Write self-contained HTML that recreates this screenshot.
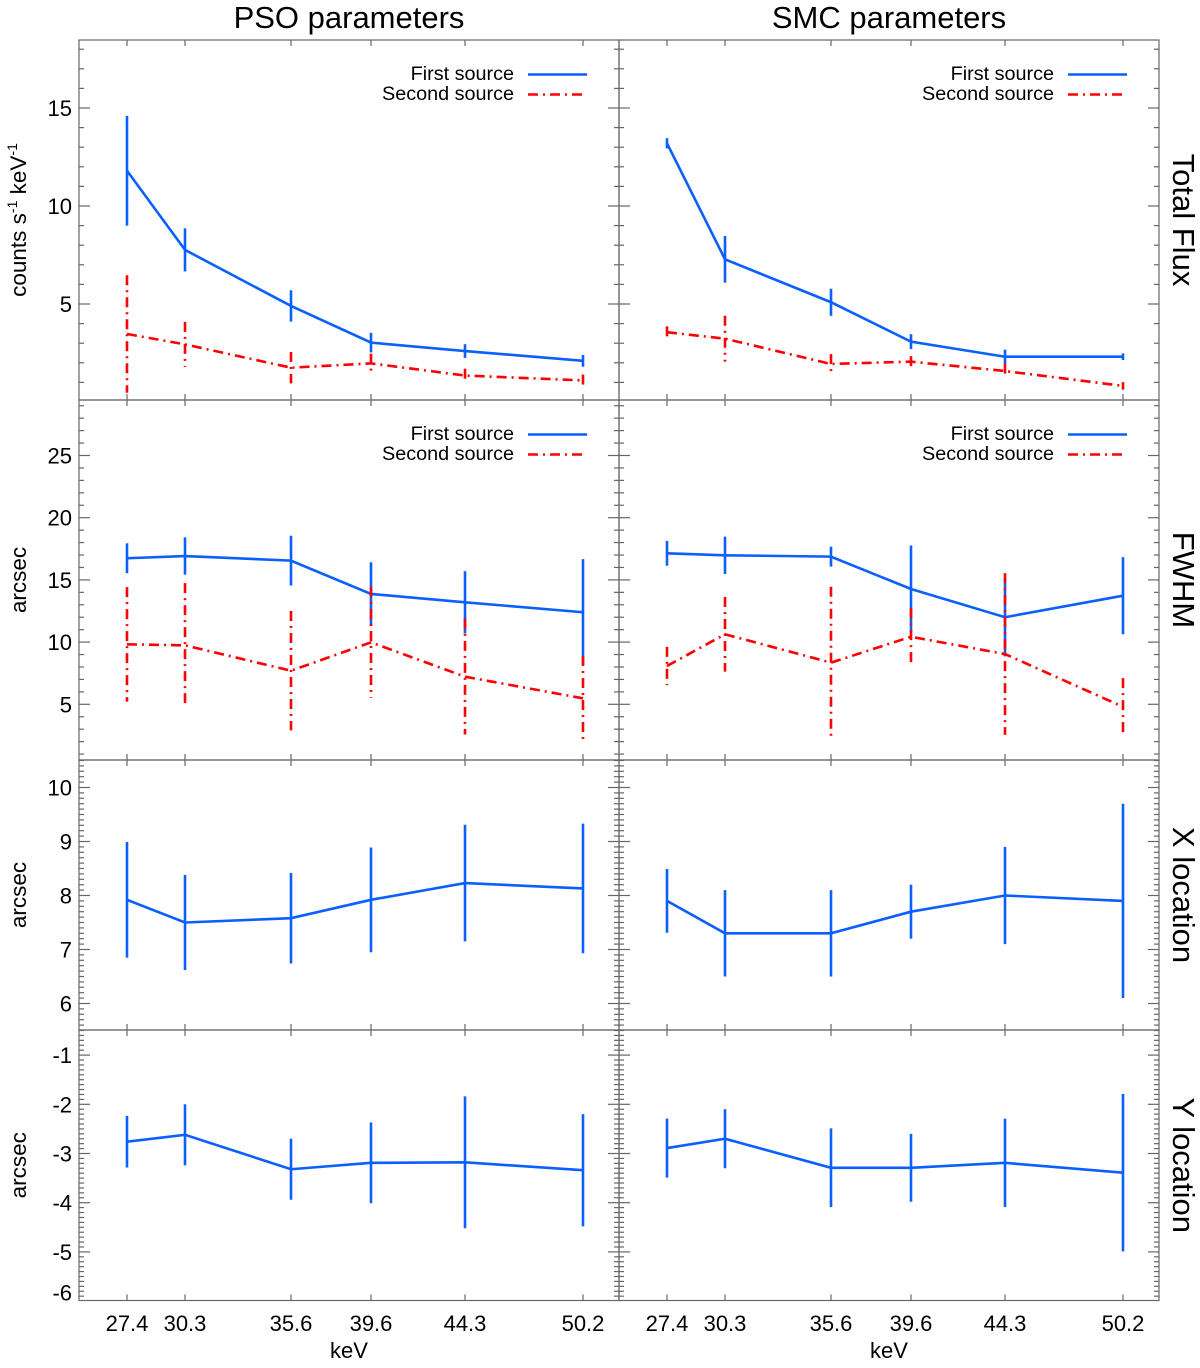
<!DOCTYPE html>
<html><head><meta charset="utf-8"><style>
html,body{margin:0;padding:0;background:#fff}
svg{display:block;font-family:"Liberation Sans",Arial,sans-serif}
</style></head><body>
<svg id="chart" width="1200" height="1368" viewBox="0 0 1200 1368" xmlns="http://www.w3.org/2000/svg">
<text x="349" y="28" font-size="31" text-anchor="middle">PSO parameters</text>
<text x="889" y="28" font-size="31" text-anchor="middle">SMC parameters</text>
<g id="marks"></g>
</svg>
<script>
const energies = [27.4, 30.3, 35.6, 39.6, 44.3, 50.2];
const energyLabels = ["27.4", "30.3", "35.6", "39.6", "44.3", "50.2"];

const psoFluxFirst = [11.8, 7.76, 4.9, 3.03, 2.6, 2.1];
const psoFluxFirstErr = [2.8, 1.1, 0.8, 0.5, 0.35, 0.3];
const psoFluxSecond = [3.47, 2.94, 1.75, 1.97, 1.35, 1.1];
const psoFluxSecondErr = [3.0, 1.15, 0.8, 0.5, 0.35, 0.3];
const smcFluxFirst = [13.2, 7.28, 5.09, 3.08, 2.31, 2.31];
const smcFluxFirstErr = [0.26, 1.19, 0.69, 0.38, 0.36, 0.17];
const smcFluxSecond = [3.56, 3.23, 1.94, 2.06, 1.58, 0.82];
const smcFluxSecondErr = [0.3, 1.17, 0.5, 0.28, 0.38, 0.19];

const psoFwhmFirst = [16.74, 16.92, 16.55, 13.87, 13.2, 12.4];
const psoFwhmFirstErr = [1.2, 1.5, 2.0, 2.55, 2.5, 4.27];
const psoFwhmSecond = [9.82, 9.74, 7.7, 9.98, 7.22, 5.48];
const psoFwhmSecondErr = [4.6, 5.0, 4.8, 4.45, 4.65, 3.4];
const smcFwhmFirst = [17.14, 16.98, 16.87, 14.27, 12.0, 13.73];
const smcFwhmFirstErr = [1.0, 1.5, 0.8, 3.5, 3.15, 3.1];
const smcFwhmSecond = [8.08, 10.63, 8.35, 10.43, 9.04, 4.8];
const smcFwhmSecondErr = [1.54, 3.0, 6.1, 2.3, 6.5, 2.3];

const psoX = [7.92, 7.50, 7.58, 7.92, 8.23, 8.13];
const psoXErr = [1.07, 0.88, 0.84, 0.97, 1.08, 1.2];
const smcX = [7.90, 7.30, 7.30, 7.70, 8.0, 7.90];
const smcXErr = [0.59, 0.8, 0.8, 0.5, 0.9, 1.8];

const psoY = [-2.76, -2.62, -3.32, -3.19, -3.18, -3.34];
const psoYErr = [0.525, 0.62, 0.62, 0.82, 1.34, 1.14];
const smcY = [-2.89, -2.70, -3.29, -3.29, -3.19, -3.39];
const smcYErr = [0.6, 0.6, 0.8, 0.69, 0.9, 1.6];

const fluxTicks = [5, 10, 15];
const fwhmTicks = [5, 10, 15, 20, 25];
const xlocTicks = [6, 7, 8, 9, 10];
const ylocTicks = [-1, -2, -3, -4, -5, -6];

const NS = "http://www.w3.org/2000/svg";
const root = document.getElementById("marks");
function el(tag, attrs, parent) {
  const e = document.createElementNS(NS, tag);
  for (const k in attrs) e.setAttribute(k, attrs[k]);
  (parent || root).appendChild(e);
  return e;
}
const BLUE = "#0a5fff", RED = "#ff0000", AX = "#666";
const DASH = "10,5,2,5";

const rows = [
  {name:"flux", top:40, bot:400, v0:5, y0:304, k:19.6, minor:1, ticks:fluxTicks, lo:0, hi:18.5,
   title:"Total Flux", ylab:"counts"},
  {name:"fwhm", top:400, bot:760, v0:5, y0:704.3, k:12.44, minor:1, ticks:fwhmTicks, lo:0, hi:30,
   title:"FWHM", ylab:"arcsec"},
  {name:"xloc", top:760, bot:1030, v0:10, y0:787.5, k:54, minor:0.1, ticks:xlocTicks, lo:5.5, hi:10.5,
   title:"X location", ylab:"arcsec"},
  {name:"yloc", top:1030, bot:1300.5, v0:-1, y0:1055.1, k:49.2, minor:0.1, ticks:ylocTicks, lo:-6.05, hi:-0.45,
   title:"Y location", ylab:"arcsec"}
];
const panels = [{name:"pso", x0:79, x1:619, off:0}, {name:"smc", x0:619, x1:1159, off:540}];
function xs(e, off) { return 127 + (e - 27.4) * 20 + off; }
function ys(v, r) { return r.y0 - (v - r.v0) * r.k; }

const defs = el("defs", {});
rows.forEach((r, ri) => panels.forEach((p, pi) => {
  const cp = el("clipPath", {id: "c" + ri + pi}, defs);
  el("rect", {x: p.x0, y: r.top, width: p.x1 - p.x0, height: r.bot - r.top}, cp);
}));

rows.forEach((r, ri) => {
  panels.forEach((p) => {
    const g = el("g", {stroke: AX, "stroke-width": 1.2, fill: "none"});
    
    
    el("rect", {x: p.x0, y: r.top, width: p.x1 - p.x0, height: r.bot - r.top}, g);
    energies.forEach((e) => {
      const x = xs(e, p.off);
      el("line", {x1: x, y1: r.top, x2: x, y2: r.top + 6}, g);
      el("line", {x1: x, y1: r.bot, x2: x, y2: r.bot - 6}, g);
    });
    const n0 = Math.ceil(r.lo / r.minor - 1e-6), n1 = Math.floor(r.hi / r.minor + 1e-6);
    for (let n = n0; n <= n1; n++) {
      const v = n * r.minor;
      const y = ys(v, r);
      if (y < r.top + 0.5 || y > r.bot - 0.5) continue;
      const major = r.ticks.some(t => Math.abs(t - v) < 1e-6);
      const len = major ? 11 : 5;
      el("line", {x1: p.x0, y1: y, x2: p.x0 + len, y2: y}, g);
      el("line", {x1: p.x1, y1: y, x2: p.x1 - len, y2: y}, g);
    }
  });
  r.ticks.forEach((t) => {
    let y = ys(t, r);
    if (y > r.bot - 8) y = r.bot - 8;
    const tx = el("text", {x: 72, y: y + 8, "font-size": 22, "text-anchor": "end"});
    
    
    tx.textContent = String(t);
  });
  const cy = (r.top + r.bot) / 2;
  const rt = el("text", {x: 1173, y: cy, "font-size": 31, "text-anchor": "middle", transform: "rotate(90 1173 " + cy + ")"});
  
  
  rt.textContent = r.title;
  const lt = el("text", {x: 26, y: cy, "font-size": 22.5, "text-anchor": "middle", transform: "rotate(-90 26 " + cy + ")"});
  
  
  if (r.ylab === "counts") {
    lt.innerHTML = 'counts s<tspan dy="-9" font-size="14">-1</tspan><tspan dy="9"> keV</tspan><tspan dy="-9" font-size="14">-1</tspan>';
  } else lt.textContent = r.ylab;
});

panels.forEach((p) => {
  energies.forEach((e, i) => {
    const t = el("text", {x: xs(e, p.off), y: 1331, "font-size": 22, "text-anchor": "middle"});
    
    
    t.textContent = energyLabels[i];
  });
  const k = el("text", {x: (p.x0 + p.x1) / 2, y: 1358, "font-size": 22, "text-anchor": "middle"});
  
  
  k.textContent = "keV";
});

function series(ri, pi, vals, errs, color, dashed, label) {
  const r = rows[ri], p = panels[pi];
  const g = el("g", {"clip-path": "url(#c" + ri + pi + ")", stroke: color, "stroke-width": 2.6, fill: "none"});
  
  
  const pts = vals.map((v, i) => xs(energies[i], p.off) + "," + ys(v, r)).join(" ");
  const line = el("polyline", {points: pts}, g);
  
  
  if (dashed) line.setAttribute("stroke-dasharray", DASH);
  vals.forEach((v, i) => {
    const x = xs(energies[i], p.off);
    const b = el("line", {x1: x, y1: ys(v + errs[i], r), x2: x, y2: ys(v - errs[i], r)}, g);
    
    
    if (dashed) b.setAttribute("stroke-dasharray", DASH);
  });
}
series(0, 0, psoFluxFirst, psoFluxFirstErr, BLUE, false, "pso-flux-first");
series(0, 0, psoFluxSecond, psoFluxSecondErr, RED, true, "pso-flux-second");
series(0, 1, smcFluxFirst, smcFluxFirstErr, BLUE, false, "smc-flux-first");
series(0, 1, smcFluxSecond, smcFluxSecondErr, RED, true, "smc-flux-second");
series(1, 0, psoFwhmFirst, psoFwhmFirstErr, BLUE, false, "pso-fwhm-first");
series(1, 0, psoFwhmSecond, psoFwhmSecondErr, RED, true, "pso-fwhm-second");
series(1, 1, smcFwhmFirst, smcFwhmFirstErr, BLUE, false, "smc-fwhm-first");
series(1, 1, smcFwhmSecond, smcFwhmSecondErr, RED, true, "smc-fwhm-second");
series(2, 0, psoX, psoXErr, BLUE, false, "pso-x-location");
series(2, 1, smcX, smcXErr, BLUE, false, "smc-x-location");
series(3, 0, psoY, psoYErr, BLUE, false, "pso-y-location");
series(3, 1, smcY, smcYErr, BLUE, false, "smc-y-location");

[40, 400].forEach((top, ri) => panels.forEach((p) => {
  const g = el("g", {});
  
  
  const t1 = el("text", {x: 514 + p.off, y: top + 40, "font-size": 19.8, "text-anchor": "end"}, g);
  
  
  t1.textContent = "First source";
  const t2 = el("text", {x: 514 + p.off, y: top + 60, "font-size": 19.8, "text-anchor": "end"}, g);
  
  
  t2.textContent = "Second source";
  el("line", {x1: 528 + p.off, y1: top + 34.5, x2: 587 + p.off, y2: top + 34.5, stroke: BLUE, "stroke-width": 2.6}, g);
  el("line", {x1: 528 + p.off, y1: top + 54.5, x2: 587 + p.off, y2: top + 54.5, stroke: RED, "stroke-width": 2.6, "stroke-dasharray": DASH}, g);
}));
</script>
</body></html>
